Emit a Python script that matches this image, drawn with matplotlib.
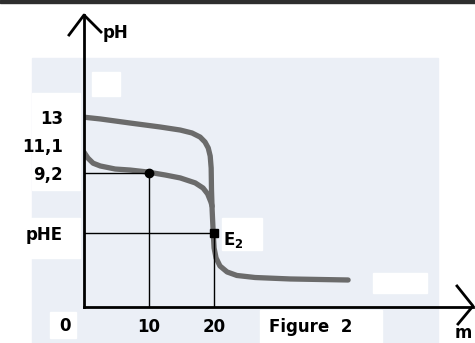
import matplotlib.pyplot as plt
from matplotlib.lines import Line2D
from matplotlib.patches import Rectangle

# volume m (mL) and pH
upper_m = [0, 2.5, 7.1, 11.7, 14.8, 16.6, 17.85, 18.6, 19.1, 19.4, 19.55,
           19.6, 19.7, 19.85, 20.0, 20.3, 20.9, 22.0, 23.5, 26.3, 31.7, 40.6]
upper_ph = [13.0, 12.88, 12.6, 12.33, 12.12, 11.92, 11.64, 11.3, 10.89,
            10.34, 9.52, 8.01, 6.64, 5.2, 4.04, 3.36, 2.81, 2.4, 2.16, 2.02,
            1.92, 1.85]

lower_m = [0, 0.6, 1.4, 2.5, 4.8, 7.1, 9.7, 12.5, 14.8, 17.1, 18.3, 19.0,
           19.5, 19.7]
lower_ph = [10.6, 10.2, 9.85, 9.66, 9.45, 9.38, 9.25, 9.04, 8.84, 8.5, 8.15,
            7.75, 7.2, 6.9]

half_eq = (10, 9.2)
eq_point = (20, 5.1)

ytick_vals = [13, 11.1, 9.2, 5.1]
ytick_labels = ["13", "11,1", "9,2", "pHE"]
xtick_vals = [10, 20]
xtick_labels = ["10", "20"]

W, H = 475, 343


def px(x, y):
    """pixel position -> figure fraction"""
    return x / W, 1 - y / H


def main():
    fig = plt.figure(figsize=(4.75, 3.43), dpi=100)

    # scanned paper look
    def rect(x0, y0, x1, y1, color):
        fig.patches.append(Rectangle(px(x0, y1), (x1 - x0) / W,
                                     (y1 - y0) / H, transform=fig.transFigure,
                                     color=color, zorder=-2))
    rect(0, 0, W, 2.5, "#2e2e2e")
    rect(32, 58, 438, H, "#ebeff6")
    rect(32, 93, 80, 190, "white")
    rect(0, 218, 80, 258, "white")
    rect(92, 72, 120, 96, "white")
    rect(222, 218, 262, 250, "white")
    rect(260, 310, 382, H, "white")
    rect(373, 273, 427, 293, "white")
    rect(50, 312, 76, 338, "white")

    l, b = px(84, 307)
    r, t = px(473, 15)
    ax = fig.add_axes([l, b, r - l, t - b])
    ax.set_facecolor("none")
    ax.set_xlim(0, 59.8)
    ax.set_ylim(0, 20)
    for s in ["top", "right"]:
        ax.spines[s].set_visible(False)
    for s in ["left", "bottom"]:
        ax.spines[s].set_linewidth(2)
        ax.spines[s].set_zorder(5)

    bold = dict(fontsize=12, fontweight="bold", family="DejaVu Sans")
    ax.set_yticks(ytick_vals, ytick_labels, **bold)
    ax.set_xticks(xtick_vals, xtick_labels, **bold)
    ax.tick_params(axis="y", length=0, pad=15)
    ax.tick_params(axis="x", length=0, pad=8)

    # titration curves
    ax.plot(upper_m, upper_ph, color="#6b6b6b", lw=3.8,
            solid_capstyle="round", solid_joinstyle="round", zorder=2)
    ax.plot(lower_m, lower_ph, color="#6b6b6b", lw=3.8,
            solid_capstyle="round", solid_joinstyle="round", zorder=2)

    # construction lines
    for (mx, my) in [half_eq, eq_point]:
        ax.plot([0, mx], [my, my], color="black", lw=1, zorder=3)
        ax.plot([mx, mx], [0, my], color="black", lw=1, zorder=3)
    ax.plot(*half_eq, "o", color="black", ms=6, zorder=4)
    ax.plot(*eq_point, "s", color="black", ms=6, zorder=4)

    ax.annotate("E$_\\mathbf{2}$", eq_point, xytext=(9, -7),
                textcoords="offset pixels", va="center", ha="left", **bold)
    ax.annotate("0", (0, 0), xytext=(-19, -19), textcoords="offset pixels",
                ha="center", va="center", **bold)

    # arrow heads and axis names
    for pts in [[(69, 35), (84, 15), (101, 32)],
                [(457, 286), (473, 306), (458, 324)]]:
        xs, ys = zip(*[px(*p) for p in pts])
        fig.lines.append(Line2D(xs, ys, color="black", lw=2,
                                transform=fig.transFigure))
    fig.text(*px(103, 33), "pH", ha="left", va="center", **bold)
    fig.text(*px(463, 333), "m", ha="center", va="center", **bold)
    fig.text(*px(269, 327), "Figure  2", ha="left", va="center", **bold)

    fig.savefig("out.png", dpi=100)


if __name__ == "__main__":
    main()
